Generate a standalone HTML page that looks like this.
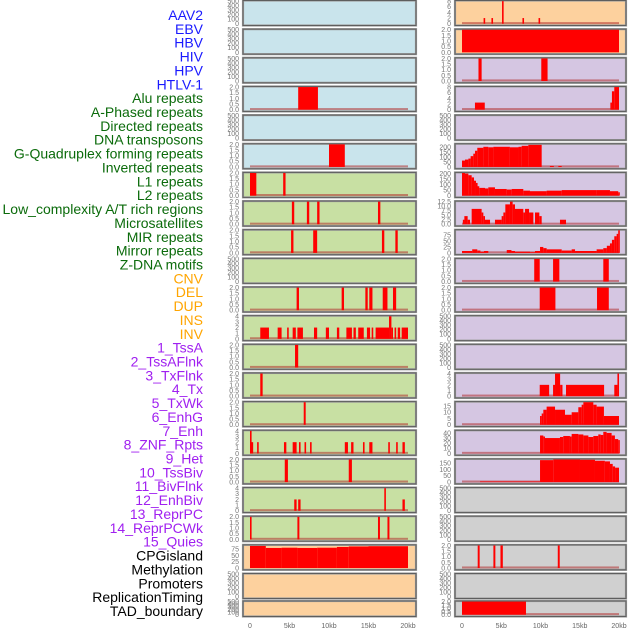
<!DOCTYPE html>
<html><head><meta charset="utf-8"><style>
html,body{margin:0;padding:0;background:#fff;}
svg{display:block;font-family:"Liberation Sans",sans-serif;}
</style></head><body>
<svg id="chart" width="630" height="630" viewBox="0 0 630 630"></svg>
<script>
const labels = ["AAV2","EBV","HBV","HIV","HPV","HTLV-1","Alu repeats","A-Phased repeats","Directed repeats","DNA transposons","G-Quadruplex forming repeats","Inverted repeats","L1 repeats","L2 repeats","Low_complexity A/T rich regions","Microsatellites","MIR repeats","Mirror repeats","Z-DNA motifs","CNV","DEL","DUP","INS","INV","1_TssA","2_TssAFlnk","3_TxFlnk","4_Tx","5_TxWk","6_EnhG","7_Enh","8_ZNF_Rpts","9_Het","10_TssBiv","11_BivFlnk","12_EnhBiv","13_ReprPC","14_ReprPCWk","15_Quies","CPGisland","Methylation","Promoters","ReplicationTiming","TAD_boundary"];
const labelColors = ["#1a1aff","#1a1aff","#1a1aff","#1a1aff","#1a1aff","#1a1aff","#0b6b0b","#0b6b0b","#0b6b0b","#0b6b0b","#0b6b0b","#0b6b0b","#0b6b0b","#0b6b0b","#0b6b0b","#0b6b0b","#0b6b0b","#0b6b0b","#0b6b0b","#ffa500","#ffa500","#ffa500","#ffa500","#ffa500","#a020f0","#a020f0","#a020f0","#a020f0","#a020f0","#a020f0","#a020f0","#a020f0","#a020f0","#a020f0","#a020f0","#a020f0","#a020f0","#a020f0","#a020f0","#000","#000","#000","#000","#000"];
const xTicks = [0,5,10,15,20];
const xTickLabels = ["0","5kb","10kb","15kb","20kb"];
const T500 = [0,100,200,300,400,500];
const T2 = [0,0.5,1.0,1.5,2.0];
const T4 = [0,1,2,3,4];
const T8 = [0,2,4,6,8];
// segments: [startKb, endKb, value]
const L_HIV = [[6.1,8.6,2]];
const L_HTLV = [[10.0,12.0,2]];
const L_Alu = [[0,0.8,2],[4.2,4.5,2]];
const L_APhased = [[5.3,5.6,2],[7.2,7.5,2],[8.5,8.8,2],[16.2,16.5,2]];
const L_Directed = [[5.2,5.5,2],[8.0,8.5,2],[16.7,17.0,2],[18.4,18.7,2]];
const L_G4 = [[5.9,6.2,2],[11.6,11.9,2],[14.6,14.9,2],[15.1,15.5,2],[16.8,17.4,2],[18.1,18.5,2]];
const L_Inv = [[1.3,2.4,2],[3.5,4.0,2],[4.7,4.9,2],[5.4,5.8,2],[6.0,6.7,2],[8.1,8.5,2],[9.6,10.0,2],[11.0,11.3,2],[12.2,12.9,2],[13.1,13.4,2],[13.7,14.4,2],[14.8,15.2,2],[15.4,15.6,2],[15.9,17.6,2],[17.6,17.9,4],[17.9,18.1,2],[18.3,18.5,2],[18.7,19.0,2],[19.2,20.0,2]];
const L_L1 = [[5.7,6.1,2]];
const L_L2 = [[1.3,1.6,2]];
const L_Low = [[6.8,7.05,2]];
const L_Micro = [[0,0.15,4],[0.15,0.4,2],[0.9,1.1,2],[4.3,4.6,2],[5.4,5.9,2],[6.2,6.4,2],[6.9,7.1,2],[7.6,7.8,2],[12.0,12.4,2],[12.8,13.1,2],[14.3,14.5,2],[15.1,15.5,2],[17.5,17.7,2],[18.5,18.7,2],[19.3,19.6,2]];
const L_MIR = [[4.4,4.8,2],[12.5,12.9,2]];
const L_Mirror = [[5.6,5.9,2],[6.1,6.4,2],[17.0,17.2,4],[19.3,19.6,2]];
const L_ZDNA = [[0,0.2,2],[6.0,6.25,2],[16.2,16.45,2],[17.4,17.65,2]];
const L_CPG = [[0,2.0,88],[2.0,4.0,80],[4.0,6.0,81],[6.0,8.5,80],[8.5,11.0,81],[11.0,12.5,84],[12.5,15.0,86],[15.0,20.0,87]];
const R_AAV2 = [[2.75,2.95,2],[3.75,3.95,2],[5.1,5.3,8],[7.7,7.9,2],[9.75,9.95,2]];
const R_EBV = [[0,20,2]];
const R_HBV = [[2.1,2.5,2],[10.1,10.9,2]];
const R_HIV = [[1.65,2.9,2.5],[18.9,19.1,2.5],[19.1,19.4,6.5],[19.4,20.0,8]];
const R_G4 = [[0,0.38,65],[0.38,0.81,75],[0.81,1.1,85],[1.1,1.44,110],[1.44,1.66,135],[1.66,1.95,165],[1.95,2.72,195],[2.72,3.35,205],[3.35,4.0,200],[4.0,6.1,205],[6.1,7.2,200],[7.2,7.6,205],[7.6,8.45,215],[8.45,10.15,225],[11.2,11.7,10],[12.27,12.7,10]];
const R_Inv = [[0,0.38,205],[0.38,0.81,200],[0.81,1.23,185],[1.23,1.53,165],[1.53,1.78,135],[1.78,1.95,115],[1.95,2.2,85],[2.2,2.93,70],[2.93,3.35,65],[3.35,4.2,75],[4.2,5.69,60],[5.69,6.33,55],[6.33,7.81,60],[7.81,8.66,45],[8.66,10.78,40],[10.78,12.7,45],[12.7,17.15,50],[17.15,18.85,50],[18.85,19.9,40],[19.9,20,30]];
const R_L1 = [[0.11,0.3,2.5],[0.3,0.72,4.5],[0.72,1.02,2.5],[1.23,2.5,8.5],[2.5,2.72,6.5],[2.72,2.93,4.5],[2.93,3.57,2.5],[4.2,5.05,2.5],[5.05,5.27,4.5],[5.27,5.52,6.5],[5.52,6.11,11],[6.11,6.45,12.5],[6.45,6.75,11],[6.75,7.81,8.5],[7.81,8.03,6.5],[8.03,8.54,8.5],[8.54,9.09,6.5],[9.3,9.85,6.5],[9.85,10.15,4.5],[12.48,13.25,2.5]];
const R_L2 = [[0,1.3,8],[1.3,1.95,15],[1.95,2.35,10],[2.35,2.8,5],[2.8,3.35,8],[5.7,6.3,12],[6.3,6.75,8],[6.75,8.66,5],[8.66,9.3,3],[9.3,9.94,8],[9.94,10.36,25],[10.36,10.78,20],[10.78,12.7,15],[12.7,13.97,10],[13.97,14.4,15],[14.4,17.15,8],[17.15,18.0,15],[18.0,18.45,20],[18.45,18.85,30],[18.85,19.1,40],[19.1,19.4,55],[19.4,19.7,70],[19.7,19.9,80],[19.9,20,95]];
const R_Low = [[9.2,9.9,2],[11.6,12.4,2],[18.0,18.7,2]];
const R_Micro = [[9.9,11.9,2],[17.2,18.7,2]];
const R_Mirror = [[9.9,11.1,2],[11.6,11.85,2],[11.85,12.5,4],[12.5,12.8,2],[13.25,18.1,2],[19.4,19.8,2],[19.8,20,4]];
const R_ZDNA = [[9.94,10.15,7],[10.15,10.36,9],[10.36,10.78,12],[10.78,11.85,14.5],[11.85,13.12,12],[13.12,13.97,8],[13.97,14.82,10],[14.82,15.24,14],[15.24,15.46,16],[15.46,16.73,18],[16.73,17.15,16],[17.15,18.08,14.5],[18.08,20,7]];
const R_CNV = [[9.94,10.36,35],[10.36,10.57,33],[10.57,12.48,30],[12.48,12.9,32],[12.9,13.75,34],[13.75,13.97,33],[13.97,14.82,38],[14.82,15.46,37],[15.46,16.1,35],[16.1,16.73,32],[16.73,17.36,34],[17.36,17.66,37],[17.66,18.0,36],[18.0,18.42,42],[18.42,19.06,40],[19.06,19.48,35],[19.48,19.9,28],[19.9,20,26]];
const R_DEL = [[2.3,9.94,5],[9.94,11.63,175],[11.63,15.03,180],[15.03,16.94,178],[16.94,18.2,170],[18.2,18.85,165],[18.85,19.2,145],[19.2,19.5,125],[19.5,20,115]];
const R_CPG = [[2.0,2.25,2],[4.0,4.25,2],[4.9,5.2,2],[12.2,12.45,2]];
const R_TAD = [[0,8.15,2]];
// panels: [col,row,bg,ticks,ymax,data,baseline]
const BLUE="#c9e4ec",GREEN="#c8e0a3",ORANGE="#fdd19e",PURPLE="#d5c6e2",GRAY="#d0d0d0";
const panels = [
[0,0,BLUE,T500,500,[],0],[0,1,BLUE,T500,500,[],0],[0,2,BLUE,T500,500,[],0],[0,3,BLUE,T2,2,L_HIV,1],[0,4,BLUE,T500,500,[],0],[0,5,BLUE,T2,2,L_HTLV,1],
[0,6,GREEN,T2,2,L_Alu,1],[0,7,GREEN,T2,2,L_APhased,1],[0,8,GREEN,T2,2,L_Directed,1],[0,9,GREEN,T500,500,[],0],[0,10,GREEN,T2,2,L_G4,1],[0,11,GREEN,T4,4,L_Inv,1],
[0,12,GREEN,T2,2,L_L1,1],[0,13,GREEN,T2,2,L_L2,1],[0,14,GREEN,T2,2,L_Low,1],[0,15,GREEN,T4,4,L_Micro,1],[0,16,GREEN,T2,2,L_MIR,1],[0,17,GREEN,T4,4,L_Mirror,1],[0,18,GREEN,T2,2,L_ZDNA,1],
[0,19,ORANGE,[0,25,50,75],90,L_CPG,0],[0,20,ORANGE,T500,500,[],0],[0,21,ORANGE,T500,500,[],0],
[1,0,ORANGE,T8,8,R_AAV2,1],[1,1,ORANGE,T2,2,R_EBV,0],[1,2,PURPLE,T2,2,R_HBV,1],[1,3,PURPLE,T8,8,R_HIV,1],[1,4,PURPLE,T500,500,[],0],
[1,5,PURPLE,[0,50,100,150,200],230,R_G4,1],[1,6,PURPLE,[0,50,100,150,200],205,R_Inv,1],[1,7,PURPLE,[0,2.5,5,7.5,10,12.5],12.5,R_L1,1],[1,8,PURPLE,[0,25,50,75],95,R_L2,1],
[1,9,PURPLE,T2,2,R_Low,1],[1,10,PURPLE,T2,2,R_Micro,1],[1,11,PURPLE,T500,500,[],0],[1,12,PURPLE,T500,500,[],0],[1,13,PURPLE,T4,4,R_Mirror,1],
[1,14,PURPLE,[0,5,10,15],18,R_ZDNA,1],[1,15,PURPLE,[0,10,20,30,40],44,R_CNV,1],[1,16,PURPLE,[0,50,100,150],180,R_DEL,1],
[1,17,GRAY,T500,500,[],0],[1,18,GRAY,T500,500,[],0],[1,19,GRAY,T2,2,R_CPG,1],[1,20,GRAY,T500,500,[],0],[1,21,GRAY,T2,2,R_TAD,1]
];
const NS="http://www.w3.org/2000/svg";
const svg=document.getElementById('chart');
function mk(tag,attrs,parent){const e=document.createElementNS(NS,tag);for(const k in attrs)e.setAttribute(k,attrs[k]);(parent||svg).appendChild(e);return e;}
// labels
labels.forEach((t,i)=>{
  const e=mk('text',{x:203,y:15+13.86*i+5,'text-anchor':'end','font-size':14,fill:labelColors[i]});
  e.textContent=t;
  
  
});
const colX=[{fl:243,fr:416,x0:250,x1:408},{fl:455,fr:626,x0:462,x1:619}];
function xScale(c,kb){const C=colX[c];return C.x0+(C.x1-C.x0)*kb/20;}
function fmt(v,ticks){const dec=ticks.some(t=>t%1!==0);if(!dec)return String(v);return ticks.some(t=>(t*10)%1!==0)?v.toFixed(1):v.toFixed(1);}
panels.forEach(p=>{
  const [c,r,bg,ticks,ymax,data,base]=p;
  const C=colX[c];
  const top=r===21?601:28.65*r+0.5;
  const h=r===21?15.5:25;
  const g=mk('g',{});
  
  
  mk('rect',{x:C.fl,y:top,width:C.fr-C.fl,height:h,fill:bg,stroke:'#a0a0a0','stroke-width':2.2},g);
  mk('rect',{x:C.fl,y:top,width:C.fr-C.fl,height:h,fill:'none',stroke:'#5e5e5e','stroke-width':1},g);
  const yb=top+h-1.8, yt=top+0.6;
  const ys=v=>yb-(yb-yt)*v/ymax;
  ticks.forEach(t=>{
    const e=mk('text',{x:C.fl-4,y:ys(t)+2.4,'text-anchor':'end','font-size':7,fill:'#777'},g);
    e.textContent=fmt(t,ticks);
    
    
  });
  if(base){
    const bl=mk('rect',{x:xScale(c,0),y:yb-1.6,width:xScale(c,20)-xScale(c,0),height:2,fill:'#b03030',opacity:0.55},g);
    
    
  }
  data.forEach(d=>{
    const x1=xScale(c,d[0]),x2=xScale(c,d[1]);
    const b=mk('rect',{x:x1,y:ys(d[2]),width:Math.max(1.6,x2-x1),height:yb-ys(d[2]),fill:'#ff0000'},g);
    
    
  });
});
// x-axis labels
[0,1].forEach(c=>{
  xTicks.forEach((t,i)=>{
    const e=mk('text',{x:xScale(c,t),y:628,'text-anchor':'middle','font-size':7,fill:'#666'});
    e.textContent=xTickLabels[i];
    
    
  });
});
</script>
</body></html>
